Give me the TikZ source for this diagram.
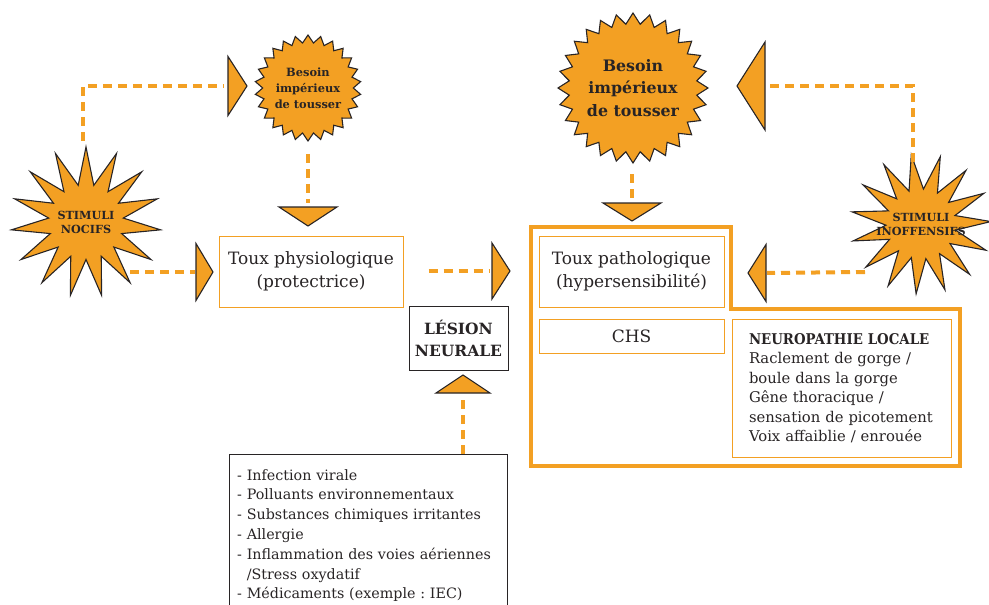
\documentclass[tikz,border=0pt]{standalone}
\usepackage{fontspec}
\setmainfont{DejaVu Serif}
\newfontfamily\condfont{DejaVu Serif Condensed}
\usetikzlibrary{shapes.geometric,positioning,calc}
\definecolor{sunorange}{RGB}{243,160,35}
\definecolor{inkgray}{RGB}{40,36,37}

\tikzset{
  dashlink/.style={sunorange, line width=4pt, dash pattern=on 9pt off 6pt},
  headtri/.style={fill=sunorange, draw=inkgray, line width=1.1pt, line join=miter},
  pics/tip/.style 2 args={code={\draw[headtri] (-#1,-#2) -- (0,0) -- (-#1,#2) -- cycle;}},
  burst/.style={star, star points=15, star point ratio=2, fill=sunorange, draw=inkgray, line width=1.1pt, inner sep=0pt},
  sun/.style={star, star point ratio=1.17, fill=sunorange, draw=inkgray, line width=1.1pt, inner sep=0pt},
  burstlbl/.style={font=\bfseries\fontsize{11.2}{14}\selectfont, align=center, text=inkgray},
  obox/.style={draw=sunorange, line width=1pt, align=center, inner sep=0pt, text=inkgray},
  gbox/.style={draw=inkgray, line width=1pt, inner sep=0pt, text=inkgray},
}

\begin{document}
\frenchspacing
\hyphenpenalty=10000
\exhyphenpenalty=10000
\begin{tikzpicture}[x=1pt,y=-1pt]
    \useasboundingbox (0,0) rectangle (989,605);
    \clip (0,0) rectangle (989,605);

    % Stimuli and cough urge
    \node[burst, minimum size=150pt] (nocif) at (86,222) {};
    \node[burstlbl] (nociftxt) at (nocif) {STIMULI\\NOCIFS};
    \node[sun, star points=26, minimum size=106pt] (sunA) at (308,88) {};
    \node[burstlbl, font=\bfseries\fontsize{11.4}{16}\selectfont] (sunAtxt) at (sunA) {Besoin\\impérieux\\de tousser};
    \node[sun, star points=28, minimum size=150pt] (sunB) at (633,88) {};
    \node[burstlbl, font=\bfseries\fontsize{15.8}{22.5}\selectfont] (sunBtxt) at (sunB) {Besoin\\impérieux\\de tousser};
    \node[burst, minimum size=140pt, shape border rotate=8] (inof) at (921,224) {};
    \node[burstlbl] (inoftxt) at (inof) {STIMULI\\INOFFENSIFS};

    % Boxes
    \node[obox, minimum width=184pt, minimum height=71pt, font=\fontsize{17}{23}\selectfont] (physio) at (311,271.5) {Toux physiologique\\(protectrice)};
    \draw[sunorange, line width=4pt] (531,227) -- (731,227) -- (731,309) -- (960,309) -- (960,466) -- (531,466) -- cycle;
    \node[obox, minimum width=185pt, minimum height=71pt, font=\fontsize{17}{23}\selectfont] (patho) at (631.5,271.5) {Toux pathologique\\(hypersensibilité)};
    \node[obox, minimum width=185pt, minimum height=34pt, font=\fontsize{17}{23}\selectfont] (chs) at (631.5,336) {CHS};
    \node[obox, minimum width=219pt, minimum height=138pt, text width=186pt, align=left, font=\fontsize{14.8}{19.5}\selectfont] (neuro) at (842,388)
        {{\condfont\bfseries\fontsize{14.8}{19.5}\selectfont NEUROPATHIE LOCALE}\\Raclement de gorge /\\boule dans la gorge\\Gêne thoracique /\\sensation de picotement\\Voix affaiblie / enrouée};
    \node[gbox, minimum width=99pt, minimum height=64pt, align=center, font=\bfseries\fontsize{15.5}{22}\selectfont] (lesion) at (458.5,338) {LÉSION\\NEURALE};
    \node[anchor=north west, inner xsep=4pt, inner ysep=15pt, text width=266pt, align=left, text=inkgray, font=\fontsize{14.3}{19.8}\selectfont] (causes) at (233,454)
        {- Infection virale\\- Polluants environnementaux\\- Substances chimiques irritantes\\- Allergie\\- Inflammation des voies aériennes\\\phantom{- }/Stress oxydatif\\- Médicaments (exemple : IEC)};
    \draw[draw=inkgray, line width=1pt] ($(causes.north west)+(-4,0)$) rectangle ($(causes.south east)+(0,30)$);

    % Arrow heads
    \coordinate (h1) at (228,86);
    \pic at (247,86) {tip={19}{29.5}};
    \coordinate (h2) at (308,207);
    \pic[rotate=-90] at (308,226) {tip={19}{29}};
    \coordinate (h3) at (196,272);
    \pic at (213,272) {tip={17}{28.5}};
    \coordinate (h4) at (492,271);
    \pic at (510,271) {tip={18}{28}};
    \coordinate (h5) at (463,393);
    \pic[rotate=90] at (463,375) {tip={18}{27}};
    \coordinate (h6) at (632,203);
    \pic[rotate=-90] at (632,221) {tip={18}{29}};
    \coordinate (h7) at (765,86);
    \pic[rotate=180] at (737,86) {tip={28}{44}};
    \coordinate (h8) at (766,273);
    \pic[rotate=180] at (748,273) {tip={18}{28.5}};

    % Dashed links
    \draw[dashlink, shorten <=3pt, shorten >=4pt] ($(nocif.north)+(-3,0)$) |- (h1);
    \draw[dashlink, shorten <=12pt, shorten >=4pt] (sunA.south) -- (h2);
    \draw[dashlink, shorten >=1pt] ($(nocif)+(44,50)$) -- (h3);
    \draw[dashlink, shorten <=25pt, shorten >=2pt] (physio.east |- h4) -- (h4);
    \draw[dashlink, shorten >=3pt] (causes.north -| h5) -- (h5);
    \draw[dashlink, shorten <=10pt, shorten >=1pt] (sunB.south -| h6) -- (h6);
    \draw[dashlink, shorten <=4pt, shorten >=1pt] ($(inof.north)+(-8,0)$) |- (h7);
    \draw[dashlink, shorten >=1pt] ($(inof)+(-56,48)$) -- (h8);
\end{tikzpicture}
\end{document}
